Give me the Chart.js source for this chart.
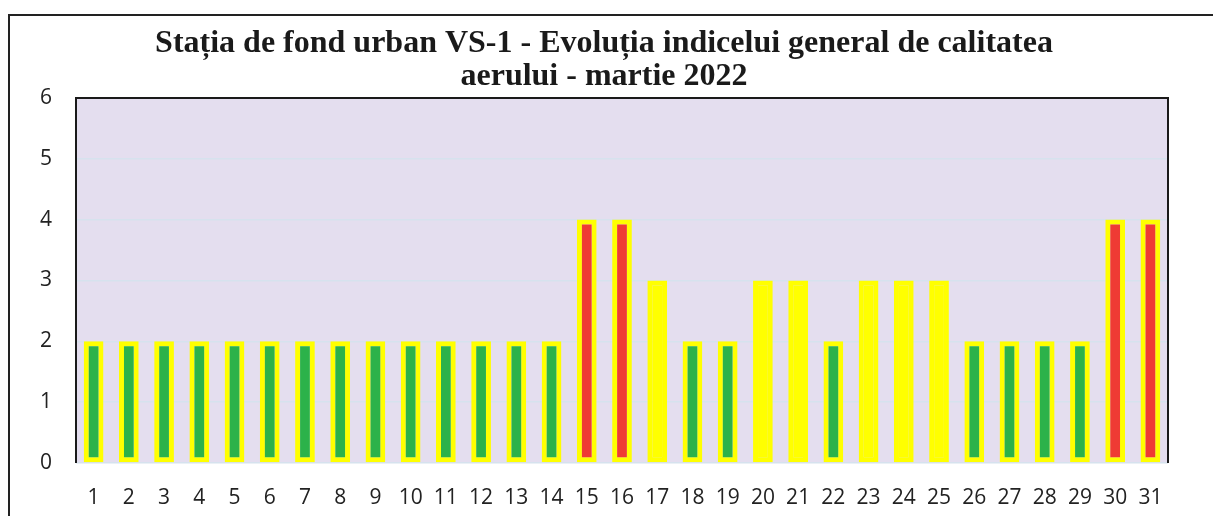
<!DOCTYPE html>
<html>
<head>
<meta charset="utf-8">
<script src="https://cdn.jsdelivr.net/npm/chart.js@4.4.0/dist/chart.umd.min.js"></script>
<style>
    html, body { margin: 0; padding: 0; background: #ffffff; }
    #wrap { width: 1213px; height: 516px; }
</style>
</head>
<body>
<div id="wrap"><canvas id="chart" width="1213" height="516"></canvas></div>
<script>
var titleLines = ['Stația de fond urban VS-1 - Evoluția indicelui general de calitatea', 'aerului - martie 2022'];
var days = ['1', '2', '3', '4', '5', '6', '7', '8', '9', '10', '11', '12', '13', '14', '15', '16',
    '17', '18', '19', '20', '21', '22', '23', '24', '25', '26', '27', '28', '29', '30', '31'];
var indexValues = [2, 2, 2, 2, 2, 2, 2, 2, 2, 2, 2, 2, 2, 2, 4, 4, 3, 2, 2, 3, 3, 2, 3, 3, 3, 2, 2, 2, 2, 4, 4];
var yTicks = [0, 1, 2, 3, 4, 5, 6];

// culoarea interioara dupa valoarea indicelui
function fillColor(v) {
    if (v >= 4) return '#ef3b34';
    if (v == 3) return '#ffff00';
    return '#2cb24a';
}
var fills = [];
for (var i = 0; i < indexValues.length; i++) {
    fills.push(fillColor(indexValues[i]));
}

var framePlugin = {
    id: 'frame',
    beforeDraw: function (chart) {
        var c = chart.ctx;
        var a = chart.chartArea;
        c.save();
        c.fillStyle = '#ffffff';
        c.fillRect(0, 0, chart.width, chart.height);
        c.strokeStyle = '#222222';
        c.lineWidth = 2;
        c.beginPath();
        c.moveTo(9, 516);
        c.lineTo(9, 15);
        c.lineTo(1213, 15);
        c.stroke();
        c.fillStyle = '#e4deef';
        c.fillRect(a.left, a.top, a.right - a.left, a.bottom - a.top);
        c.restore();
    },
    afterDatasetsDraw: function (chart) {
        var c = chart.ctx;
        var a = chart.chartArea;
        c.save();
        c.strokeStyle = '#1a1a1a';
        c.lineWidth = 2;
        c.beginPath();
        c.moveTo(a.left, a.bottom);
        c.lineTo(a.left, a.top);
        c.lineTo(a.right, a.top);
        c.lineTo(a.right, a.bottom);
        c.stroke();
        c.restore();
    }
};

var ctx = document.getElementById('chart').getContext('2d');
var myChart = new Chart(ctx, {
    type: 'bar',
    data: {
        labels: days,
        datasets: [{
            label: 'Indice',
            data: indexValues,
            backgroundColor: fills,
            borderColor: '#ffff00',
            borderWidth: 5,
            borderSkipped: false,
            categoryPercentage: 1,
            barPercentage: 0.56
        }]
    },
    options: {
        responsive: false,
        animation: false,
        layout: { padding: { left: 40, right: 45, top: 0, bottom: 0 } },
        plugins: {
            legend: { display: false },
            tooltip: { enabled: false },
            title: {
                display: true,
                text: titleLines,
                color: '#1a1a1a',
                font: { family: 'Liberation Serif', size: 32, weight: 'bold', lineHeight: 1.03 },
                padding: { top: 27, bottom: 5 }
            }
        },
        scales: {
            x: {
                grid: { display: false },
                border: { display: false },
                afterFit: function (axis) { axis.height = 53; },
                ticks: {
                    color: '#222222',
                    font: { family: 'Open Sans', size: 21 },
                    padding: 14,
                    maxRotation: 0,
                    autoSkip: false
                }
            },
            y: {
                min: 0,
                max: 6,
                afterBuildTicks: function (axis) {
                    axis.ticks = yTicks.map(function (v) { return { value: v }; });
                },
                afterFit: function (axis) { axis.width = 36; },
                grid: { color: '#d6e2ee', lineWidth: 1.5, drawTicks: false },
                border: { display: false },
                ticks: {
                    color: '#222222',
                    font: { family: 'Open Sans', size: 21 },
                    padding: 24
                }
            }
        }
    },
    plugins: [framePlugin]
});
</script>
</body>
</html>
